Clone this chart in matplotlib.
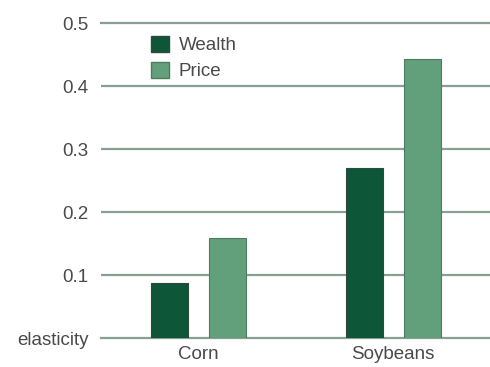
import numpy as np
import matplotlib
matplotlib.use("Agg")
import matplotlib.pyplot as plt
from matplotlib.patches import Patch

plt.rcParams["font.family"] = ["Liberation Sans", "DejaVu Sans"]

crops = ["Corn", "Soybeans"]
wealth = [0.087, 0.270]
price = [0.159, 0.443]
yticks = [0, 0.1, 0.2, 0.3, 0.4, 0.5]
ytick_labels = ["elasticity", "0.1", "0.2", "0.3", "0.4", "0.5"]

C_WEALTH = "#0d5638"
C_PRICE = "#62a07b"
C_GRID = "#87a092"
C_TEXT = "#4a4a4a"
FS = 13.5

fig = plt.figure(figsize=(4.9, 3.67), dpi=100)
ax = fig.add_axes([0.206, 0.079, 0.794, 0.858])

x = np.arange(len(crops))
w = 0.189
off = 0.148
ax.bar(x - off, wealth, w, color=C_WEALTH, edgecolor="#2f4a3c", lw=0.8, zorder=3)
ax.bar(x + off, price, w, color=C_PRICE, edgecolor="#4f7a62", lw=0.8, zorder=3)

ax.set_xlim(-0.499, 1.496)
ax.set_ylim(0, 0.5)
ax.set_yticks(yticks)
ax.set_yticklabels(ytick_labels)
ax.set_xticks(x)
ax.set_xticklabels(crops)
ax.grid(axis="y", color=C_GRID, lw=1.6, zorder=0)
ax.set_axisbelow(True)
for s in ax.spines.values():
    s.set_visible(False)
ax.tick_params(axis="both", length=0, labelsize=FS, colors=C_TEXT)
ax.tick_params(axis="y", pad=9)
ax.tick_params(axis="x", pad=6)
ax.yaxis.get_gridlines()[-1].set_clip_on(False)
ax.yaxis.get_gridlines()[0].set_clip_on(False)

handles = [Patch(facecolor=C_WEALTH, edgecolor="#2f4a3c", label="Wealth"),
           Patch(facecolor=C_PRICE, edgecolor="#4f7a62", label="Price")]
leg = ax.legend(handles=handles, loc="upper left", bbox_to_anchor=(0.11, 0.984),
                frameon=False, fontsize=FS, handlelength=0.95, handleheight=0.95,
                handletextpad=0.5, labelspacing=0.4, borderaxespad=0)
for t in leg.get_texts():
    t.set_color(C_TEXT)

fig.savefig("out.png", dpi=100)
